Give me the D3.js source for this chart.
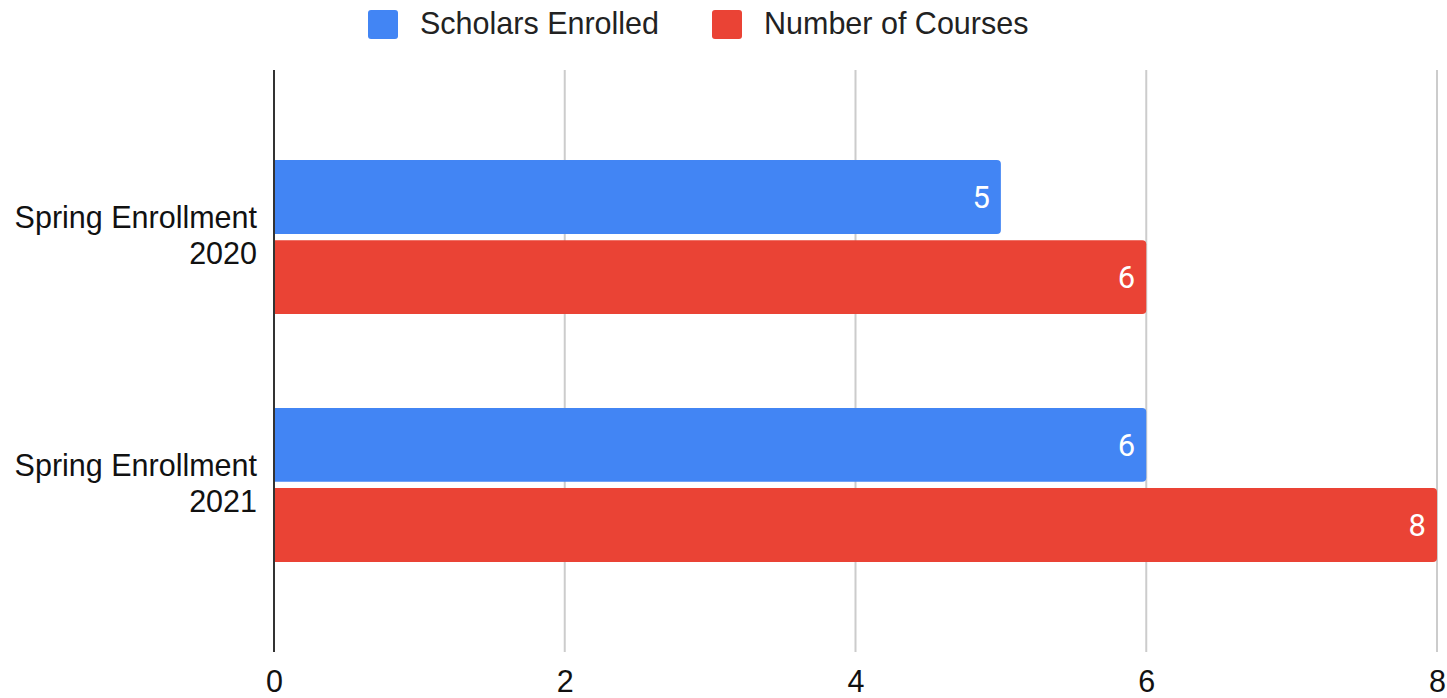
<!DOCTYPE html>
<html><head><meta charset="utf-8">
<script src="https://cdn.jsdelivr.net/npm/d3@7"></script>
<style>body{margin:0;background:#fff;}svg{display:block;}</style>
</head><body>
<svg id="c" width="1447" height="698"></svg>
<script>
const categories = [["Spring Enrollment", "2020"], ["Spring Enrollment", "2021"]];
const seriesNames = ["Scholars Enrolled", "Number of Courses"];
const scholars = [5, 6];
const courses = [6, 8];
const xTicks = [0, 2, 4, 6, 8];
const colors = ["#4285F4", "#EA4335"];

const svg = d3.select("#c");
const W = 1447, H = 698;
const m = {left: 274, right: 10, top: 70, bottom: 46};
const x = d3.scaleLinear().domain([0, 8]).range([m.left, 1437]);
const y = d3.scaleBand().domain(d3.range(categories.length)).range([m.top, H - m.bottom]).paddingInner(0.379).paddingOuter(0.363);
const yi = d3.scaleBand().domain(d3.range(seriesNames.length)).range([0, y.bandwidth()]).paddingInner(0.078);

// grid
svg.append("g").selectAll("line").data(xTicks.filter(d => d !== 0)).join("line")
  .attr("x1", d => x(d)).attr("x2", d => x(d)).attr("y1", m.top).attr("y2", H - m.bottom)
  .attr("stroke", "#cccccc").attr("stroke-width", 2);

// bars
const values = [scholars, courses];
const rows = [];
categories.forEach((c, i) => values.forEach((v, s) => rows.push({i, s, v: v[i]})));
function barPath(x0, y0, w, h, r) {
  return `M${x0},${y0}H${x0 + w - r}Q${x0 + w},${y0} ${x0 + w},${y0 + r}V${y0 + h - r}Q${x0 + w},${y0 + h} ${x0 + w - r},${y0 + h}H${x0}Z`;
}
svg.append("g").selectAll("path").data(rows).join("path")
  .attr("d", d => barPath(x(0), y(d.i) + yi(d.s), x(d.v) - x(0), yi.bandwidth(), 4))
  .attr("fill", d => colors[d.s]);

svg.append("g").selectAll("text").data(rows).join("text")
  .attr("x", d => x(d.v) - 11).attr("y", d => y(d.i) + yi(d.s) + yi.bandwidth() / 2)
  .attr("dy", "0.36em").attr("text-anchor", "end")
  .attr("fill", "#fff").attr("font-family", "Roboto, sans-serif").attr("font-size", 31)
  .text(d => d.v);

// zero axis
svg.append("line").attr("x1", x(0)).attr("x2", x(0)).attr("y1", m.top).attr("y2", H - m.bottom)
  .attr("stroke", "#333").attr("stroke-width", 2);

// x tick labels
const xAxis = d3.axisBottom(x).tickValues(xTicks).tickSize(0).tickPadding(0).tickFormat(d3.format("d"));
const gx = svg.append("g").attr("transform", `translate(0,${H - m.bottom})`).call(xAxis);
gx.select(".domain").remove();
gx.selectAll("text").attr("font-family", "'Liberation Sans', Arial, sans-serif").attr("font-size", 30.5)
  .attr("fill", "#111").attr("dy", null).attr("y", 40);

// y labels
const yl = svg.append("g").selectAll("text").data(categories).join("text")
  .attr("text-anchor", "end").attr("font-family", "'Liberation Sans', Arial, sans-serif")
  .attr("font-size", 30.5).attr("fill", "#111");
yl.each(function(d, i) {
  const c = y(i) + y.bandwidth() / 2;
  d3.select(this).selectAll("tspan").data(d).join("tspan")
    .attr("x", 257).attr("y", (t, k) => c - 9 + k * 36).text(t => t);
});

// legend
const legendX = [368, 712];
const lg = svg.append("g").selectAll("g").data(seriesNames).join("g")
  .attr("transform", (d, i) => `translate(${legendX[i]},10)`);
lg.append("rect").attr("width", 30).attr("height", 29).attr("rx", 3).attr("fill", (d, i) => colors[i]);
lg.append("text").attr("x", 52).attr("y", 24).attr("font-family", "'Liberation Sans', Arial, sans-serif")
  .attr("font-size", 30.5).attr("fill", "#222").text(d => d);
</script>
</body></html>
